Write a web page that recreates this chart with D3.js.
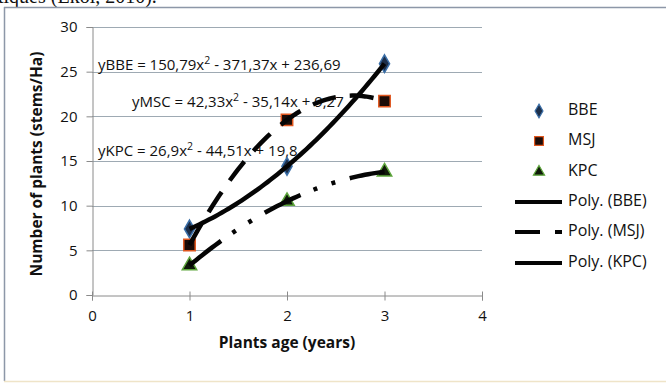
<!DOCTYPE html>
<html>
<head>
<meta charset="utf-8">
<script src="https://cdn.jsdelivr.net/npm/d3@7"></script>
<style>
  html, body { margin: 0; padding: 0; background: #fff; }
  svg { display: block; }
  text { font-family: "Open Sans", "Liberation Sans", sans-serif; fill: #111; }
</style>
</head>
<body>
<svg id="chart" width="666" height="383"></svg>
<script>
// Plant density by plant age for three sites
const ages = [1, 2, 3];
const bbe = [7.4, 14.4, 25.9];
const msj = [5.6, 19.6, 21.7];
const kpc = [3.3, 10.5, 13.8];

const xTicks = [0, 1, 2, 3, 4];
const yTicks = [0, 5, 10, 15, 20, 25, 30];

const seriesNames = ["BBE", "MSJ", "KPC"];
const trendNames = ["Poly. (BBE)", "Poly. (MSJ)", "Poly. (KPC)"];
const equations = [
  ["yBBE = 150,79x", " - 371,37x + 236,69"],
  ["yMSC = 42,33x", " - 35,14x + 9,27"],
  ["yKPC = 26,9x", " - 44,51x + 19,8"]
];

const svg = d3.select("#chart");

// Outer frame and the tail of the caption line above it
svg.append("text").attr("x", -2).attr("y", 3)
  .style("font-family", "'Liberation Serif', serif")
  .style("font-size", "20px").text("tiques (Ekoi, 2010).");
svg.append("line").attr("x1", 4).attr("x2", 666).attr("y1", 7.5).attr("y2", 7.5)
  .attr("stroke", "#8d97a8").attr("stroke-width", 1.5);
svg.append("line").attr("x1", 4.5).attr("x2", 4.5).attr("y1", 7).attr("y2", 381)
  .attr("stroke", "#8d97a8").attr("stroke-width", 1.5);
svg.append("line").attr("x1", 4).attr("x2", 666).attr("y1", 381.5).attr("y2", 381.5)
  .attr("stroke", "#efe4c8").attr("stroke-width", 1.5);

const x = d3.scaleLinear().domain([0, 4]).range([92, 482]);
const y = d3.scaleLinear().domain([0, 30]).range([295, 27]);

// Horizontal gridlines
svg.append("g").selectAll("line").data(yTicks.filter(d => d > 0)).join("line")
  .attr("x1", x(0)).attr("x2", x(4))
  .attr("y1", d => Math.round(y(d)) + 0.5).attr("y2", d => Math.round(y(d)) + 0.5)
  .attr("stroke", "#9eaab3").attr("stroke-width", 1);

// Axes
const yAxis = svg.append("g").attr("transform", `translate(${x(0) + 0.5},0)`)
  .call(d3.axisLeft(y).tickValues(yTicks).tickFormat(d3.format("d")).tickSize(6).tickPadding(9));
const xAxis = svg.append("g").attr("transform", `translate(0,${Math.round(y(0)) + 0.5})`)
  .call(d3.axisBottom(x).tickValues(xTicks).tickFormat(d3.format("d")).tickSize(5).tickPadding(10));
[yAxis, xAxis].forEach(g => {
  g.select(".domain").attr("stroke", "#8a8a8a");
  g.selectAll(".tick line").attr("stroke", "#8a8a8a");
  g.selectAll(".tick text").style("font-size", "15px")
    .style("font-family", "'Open Sans', sans-serif").attr("fill", "#111");
});
xAxis.selectAll(".tick line").attr("y1", -4);

// Axis titles
svg.append("text").attr("transform", `translate(38,164) rotate(-90)`)
  .attr("text-anchor", "middle").attr("dominant-baseline", "middle")
  .style("font-size", "15.5px").style("font-weight", "bold")
  .text("Number of plants (stems/Ha)");
svg.append("text").attr("x", 287).attr("y", 344)
  .attr("text-anchor", "middle").attr("dominant-baseline", "middle")
  .style("font-size", "15.5px").style("font-weight", "bold")
  .text("Plants age (years)");

// Trend equations (drawn beneath the trend lines)
const eqPos = [[98, 66], [132, 103], [98, 152]];
equations.forEach((eq, i) => {
  const t = svg.append("text").attr("x", eqPos[i][0]).attr("y", eqPos[i][1])
    .attr("dominant-baseline", "middle").style("font-size", "15px");
  t.append("tspan").text(eq[0]);
  t.append("tspan").attr("dy", -5).style("font-size", "10.5px").text("2");
  t.append("tspan").attr("dy", 5).text(eq[1]);
});

// Second-order polynomial trend through each series
function quadFit(xs, ys) {
  const [x0, x1, x2] = xs, [y0, y1, y2] = ys;
  return t => y0 * (t - x1) * (t - x2) / ((x0 - x1) * (x0 - x2))
            + y1 * (t - x0) * (t - x2) / ((x1 - x0) * (x1 - x2))
            + y2 * (t - x0) * (t - x1) / ((x2 - x0) * (x2 - x1));
}
const trendStyles = [
  { dash: null },
  { dash: "24 14" },
  { dash: "40 14 4 15 4 15" }
];
const allSeries = [bbe, msj, kpc];
const line = d3.line().x(d => x(d[0])).y(d => y(d[1]));
const steps = d3.range(0, 61).map(i => ages[0] + (ages[2] - ages[0]) * i / 60);

// Markers first, trend lines drawn over them
const markerStyle = [
  { type: d3.symbolDiamond, size: 90, fill: "#1d2f4a", stroke: "#3b6fa8" },
  { type: d3.symbolSquare, size: 130, fill: "#1b0c08", stroke: "#e0561e" },
  { type: d3.symbolTriangle, size: 90, fill: "#101a0a", stroke: "#5ea63c" }
];
allSeries.forEach((vals, i) => {
  const m = markerStyle[i];
  svg.append("g").selectAll("path").data(ages.map((a, j) => [a, vals[j]])).join("path")
    .attr("transform", d => `translate(${x(d[0])},${y(d[1])})`)
    .attr("d", d3.symbol().type(m.type).size(m.size))
    .attr("fill", m.fill).attr("stroke", m.stroke).attr("stroke-width", 1.5);
});
allSeries.forEach((vals, i) => {
  const f = quadFit(ages, vals);
  svg.append("path").datum(steps.map(t => [t, f(t)]))
    .attr("d", line).attr("fill", "none")
    .attr("stroke", "#050505").attr("stroke-width", 4.5)
    .attr("stroke-dasharray", trendStyles[i].dash);
});

// Legend
const legY = [111, 141, 172, 202, 232, 263];
seriesNames.forEach((name, i) => {
  const m = markerStyle[i];
  svg.append("path").attr("transform", `translate(539,${legY[i]})`)
    .attr("d", d3.symbol().type(m.type).size(m.size * 0.6))
    .attr("fill", m.fill).attr("stroke", m.stroke).attr("stroke-width", 1.2);
  svg.append("text").attr("x", 568).attr("y", legY[i])
    .attr("dominant-baseline", "middle").style("font-size", "16px").text(name);
});
const legDash = [null, "25 15 8 20", null];
trendNames.forEach((name, i) => {
  const ly = legY[i + 3];
  svg.append("line").attr("x1", 515).attr("x2", 562).attr("y1", ly).attr("y2", ly)
    .attr("stroke", "#050505").attr("stroke-width", 4)
    .attr("stroke-dasharray", legDash[i]);
  svg.append("text").attr("x", 568).attr("y", ly)
    .attr("dominant-baseline", "middle").style("font-size", "16px").text(name);
});
</script>
</body>
</html>
